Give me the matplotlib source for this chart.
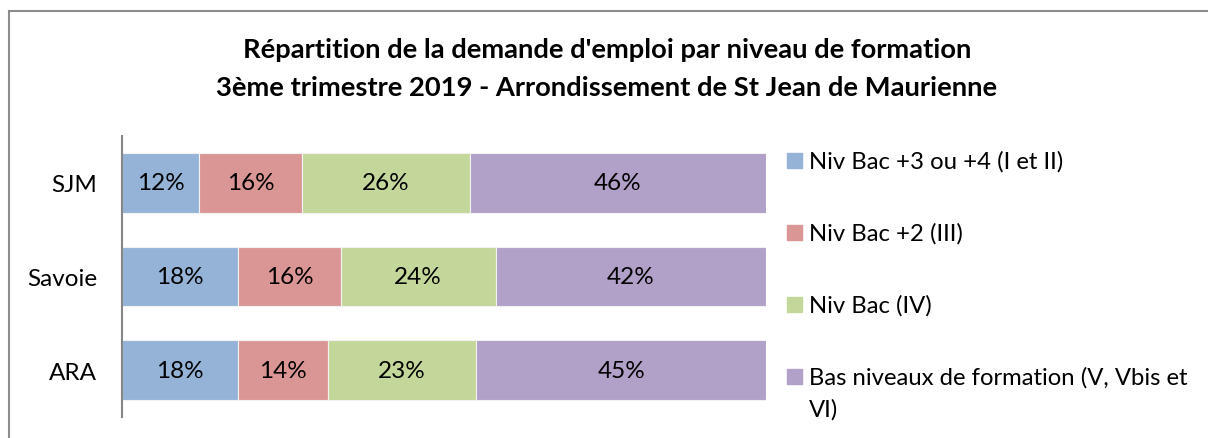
import matplotlib
matplotlib.use("Agg")
import matplotlib.pyplot as plt
from matplotlib.patches import Rectangle
from matplotlib.lines import Line2D

plt.rcParams['font.family'] = ['Lato', 'DejaVu Sans']

categories = ["SJM", "Savoie", "ARA"]
series_names = [
    "Niv Bac +3 ou +4 (I et II)",
    "Niv Bac +2 (III)",
    "Niv Bac (IV)",
    "Bas niveaux de formation (V, Vbis et\nVI)",
]
bac34 = [12, 18, 18]
bac2 = [16, 16, 14]
bac = [26, 24, 23]
bas = [46, 42, 45]
series = [bac34, bac2, bac, bas]
colors = ["#95B3D7", "#DA9694", "#C4D79B", "#B1A0C7"]

W, H = 1208, 439
fig = plt.figure(figsize=(W / 100, H / 100), dpi=100)

# outer chart frame (top and left edges visible)
fig.add_artist(Line2D([9 / W, 9 / W], [0, 1 - 12 / H], transform=fig.transFigure,
                      color="#8c8c8c", lw=1.5))
fig.add_artist(Line2D([9 / W, 1], [1 - 12 / H, 1 - 12 / H], transform=fig.transFigure,
                      color="#8c8c8c", lw=1.5))

ax = fig.add_axes([122 / W, 1 - 418 / H, (766 - 122) / W, (418 - 137) / H])

ypos = list(range(len(categories)))
left = [0] * len(categories)
for vals, col in zip(series, colors):
    bars = ax.barh(ypos, vals, left=left, height=0.64, color=col,
                   edgecolor="#f2f2f2", linewidth=0.8)
    for b, v in zip(bars, vals):
        ax.text(b.get_x() + b.get_width() / 2, b.get_y() + b.get_height() / 2,
                f"{v}%", ha="center", va="center", fontsize=17.5, color="black")
    left = [l + v for l, v in zip(left, vals)]

ax.set_xlim(0, 100)
ax.set_ylim(len(categories) - 0.5, -0.5)
ax.set_yticks(ypos)
ax.set_yticklabels(categories, fontsize=17.5)
ax.tick_params(axis="y", length=0, pad=18)
ax.set_xticks([])
for s in ["top", "right", "bottom"]:
    ax.spines[s].set_visible(False)
ax.spines["left"].set_color("#868686")
ax.spines["left"].set_linewidth(1.5)

# title
fig.text(607 / W, 1 - 50 / H, "Répartition de la demande d'emploi par niveau de formation",
         ha="center", va="center", fontsize=19.7, fontweight="bold")
fig.text(607 / W, 1 - 88 / H, "3ème trimestre 2019 - Arrondissement de St Jean de Maurienne",
         ha="center", va="center", fontsize=19.7, fontweight="bold")

# legend: colour swatch + label lines placed on baselines
legend_y = [162, 234, 306, 378]
for name, col, y in zip(series_names, colors, legend_y):
    fig.add_artist(Rectangle((787 / W, 1 - (y + 7) / H), 15 / W, 15 / H,
                             transform=fig.transFigure, color=col))
    for i, line in enumerate(name.split("\n")):
        fig.text(809 / W, 1 - (y + 7 + 32 * i) / H, line, ha="left", va="baseline",
                 fontsize=17.2)

fig.savefig("out.png", dpi=100, facecolor="white")
